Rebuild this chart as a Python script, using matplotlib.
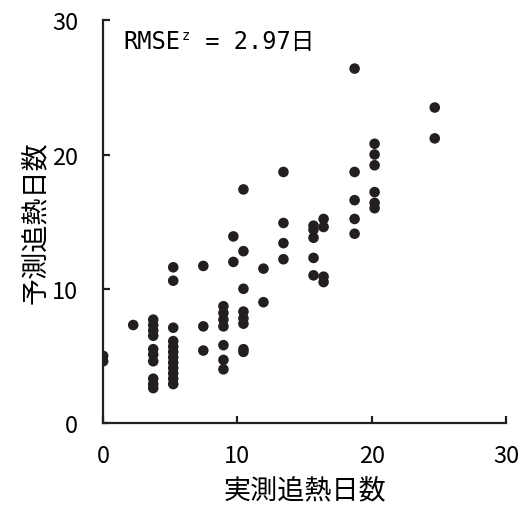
import matplotlib

matplotlib.use("Agg")
import matplotlib.pyplot as plt

plt.rcParams["font.family"] = ["Noto Sans CJK JP", "DejaVu Sans"]

observed_days = (
    [0.0, 0.0]
    + [2.24]
    + [3.73] * 10
    + [5.22] * 12
    + [7.46] * 3
    + [8.96] * 7
    + [9.7] * 2
    + [10.45] * 8
    + [11.94] * 2
    + [13.43] * 4
    + [15.67] * 5
    + [16.42] * 4
    + [18.73] * 5
    + [20.22] * 6
    + [24.7] * 2
)
predicted_days = (
    [5.0, 4.6]
    + [7.3]
    + [7.7, 7.3, 6.9, 6.5, 5.5, 5.1, 4.6, 3.3, 2.9, 2.6]
    + [11.6, 10.6, 7.1, 6.1, 5.7, 5.3, 4.9, 4.5, 4.1, 3.7, 3.3, 2.9]
    + [11.7, 7.2, 5.4]
    + [8.7, 8.2, 7.7, 7.2, 5.8, 4.7, 4.0]
    + [13.9, 12.0]
    + [17.4, 12.8, 10.0, 8.3, 7.8, 7.4, 5.5, 5.3]
    + [11.5, 9.0]
    + [18.7, 14.9, 13.4, 12.2]
    + [14.7, 14.4, 13.8, 12.3, 11.0]
    + [15.2, 14.6, 10.9, 10.5]
    + [26.4, 18.7, 16.6, 15.2, 14.1]
    + [20.8, 20.0, 19.2, 17.2, 16.4, 16.0]
    + [23.5, 21.2]
)
ticks = [0, 10, 20, 30]

fig = plt.figure(figsize=(5.21, 5.06), dpi=100)
ax = fig.add_axes([0.198, 0.162, 0.773, 0.796])

ax.scatter(observed_days, predicted_days, s=58, color="#231f20", edgecolors="none", zorder=3)

ax.set_xlim(0, 30)
ax.set_ylim(0, 30)
ax.set_xticks(ticks)
ax.set_yticks(ticks)
for side in ("top", "right"):
    ax.spines[side].set_visible(False)
for side in ("left", "bottom"):
    ax.spines[side].set_linewidth(1.6)
    ax.spines[side].set_color("#231f20")
ax.tick_params(direction="in", length=5, width=1.6, color="#231f20", labelsize=17)
ax.tick_params(axis="x", pad=15)
ax.tick_params(axis="y", pad=18)

ax.set_xlabel("実測追熱日数", fontsize=19.5, labelpad=7)
ax.set_ylabel("予測追熱日数", fontsize=19.5, labelpad=2)

# RMSE note: monospace text, superscript z placed by hand after "RMSE"
mono = ["DejaVu Sans Mono", "Noto Sans CJK JP"]
anchor = (1.5, 27.9)
ax.annotate("RMSE", anchor, fontsize=17, va="baseline", family=mono)
ax.annotate("z", anchor, xytext=(42, 7), textcoords="offset points",
            fontsize=10, va="baseline", family=mono)
ax.annotate(" = 2.97日", anchor, xytext=(49, 0), textcoords="offset points",
            fontsize=17, va="baseline", family=mono)

fig.savefig("out.png", dpi=100)
